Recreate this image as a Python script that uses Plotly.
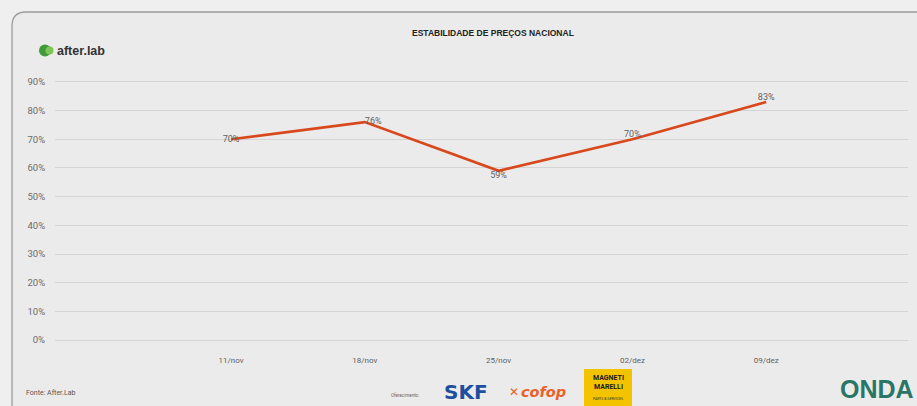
import plotly.graph_objects as go

# --- data ---
weeks = ["11/nov", "18/nov", "25/nov", "02/dez", "09/dez"]
stability_pct = [70, 76, 59, 70, 83]
label_positions = ["middle center", "middle right", "bottom center", "top center", "top center"]
y_ticks = [0, 10, 20, 30, 40, 50, 60, 70, 80, 90]

W, H = 917, 406
ML, MR, MT, MB = 55, 9, 79, 63
PW, PH = W - ML - MR, H - MT - MB

LINE = "#d9481c"
TXT = "#5f5f5f"
NARROW = "Liberation Sans Narrow, Roboto, Arial, sans-serif"


def px(x):
    """horizontal pixel -> paper fraction"""
    return (x - ML) / PW


def py(y):
    """vertical pixel (from top) -> paper fraction"""
    return (H - MB - y) / PH


xs = list(range(len(weeks)))

fig = go.Figure()
fig.add_trace(go.Scatter(
    x=xs,
    y=stability_pct,
    mode="lines+text",
    line=dict(color=LINE, width=2.7),
    text=[f"{v}%" for v in stability_pct],
    textposition=label_positions,
    textfont=dict(family=NARROW, size=9, color=TXT),
    cliponaxis=False,
    hoverinfo="skip",
    showlegend=False,
))

# card outline with rounded top-left corner
card_path = (
    f"M {px(12)} {py(420)} L {px(12)} {py(26)} "
    f"Q {px(12)} {py(12)} {px(26)} {py(12)} L {px(940)} {py(12)}"
)

shapes = [
    dict(type="path", xref="paper", yref="paper", path=card_path + f" L {px(940)} {py(420)} Z",
         fillcolor="#ebebeb", line=dict(width=0), layer="below"),
    dict(type="path", xref="paper", yref="paper", path=card_path,
         line=dict(color="#9c9c9c", width=1.3), layer="below"),
    # after.lab mark
    dict(type="circle", xref="paper", yref="paper",
         x0=px(39), x1=px(51), y0=py(56.5), y1=py(44.5),
         fillcolor="#3f9b3a", line=dict(width=0)),
    dict(type="circle", xref="paper", yref="paper",
         x0=px(45.5), x1=px(53.5), y0=py(54.5), y1=py(46.5),
         fillcolor="#7cc556", line=dict(width=0)),
    # Magneti Marelli badge
    dict(type="rect", xref="paper", yref="paper",
         x0=px(584), x1=px(632), y0=py(410), y1=py(369),
         fillcolor="#f4c300", line=dict(width=0)),
]

annotations = [
    dict(text="<b>ESTABILIDADE DE PREÇOS NACIONAL</b>", x=px(493), y=py(33),
         font=dict(family="Liberation Sans, Arial, sans-serif", size=8.5, color="#222")),
    dict(text="<b>after.lab</b>", x=px(55), y=py(51), xanchor="left",
         font=dict(family="Liberation Sans Narrow, Liberation Sans, sans-serif", size=12.5, color="#333")),
    dict(text="Fonte: After.Lab", x=px(24), y=py(393), xanchor="left",
         font=dict(family=NARROW, size=7, color="#555")),
    dict(text="Oferecimento:", x=px(389), y=py(395), xanchor="left",
         font=dict(family=NARROW, size=4.5, color="#666")),
    dict(text="<b>SKF</b>", x=px(442), y=py(392), xanchor="left",
         font=dict(family="DejaVu Sans, sans-serif", size=20, color="#1d4f9e")),
    dict(text="<b>✕</b>", x=px(507), y=py(392), xanchor="left",
         font=dict(family="DejaVu Sans, sans-serif", size=12, color="#e8632c")),
    dict(text="<b><i>cofop</i></b>", x=px(519), y=py(392), xanchor="left",
         font=dict(family="DejaVu Sans, sans-serif", size=14.5, color="#e8632c")),
    dict(text="<b>MAGNETI<br>MARELLI</b>", x=px(608), y=py(382),
         font=dict(family=NARROW, size=7, color="#1a1a1a")),
    dict(text="PARTS & SERVICES", x=px(608), y=py(399),
         font=dict(family=NARROW, size=3.5, color="#333")),
    dict(text="<b>ONDA</b>", x=px(916), y=py(389), xanchor="right",
         font=dict(family="Liberation Sans Narrow, Liberation Sans, sans-serif", size=25, color="#2a7566")),
]
for a in annotations:
    a.setdefault("xref", "paper")
    a.setdefault("yref", "paper")
    a.setdefault("xanchor", "center")
    a.setdefault("yanchor", "middle")
    a.setdefault("showarrow", False)

fig.update_layout(
    width=W, height=H, autosize=False,
    margin=dict(l=ML, r=MR, t=MT, b=MB),
    paper_bgcolor="#efefef",
    plot_bgcolor="rgba(0,0,0,0)",
    shapes=shapes,
    annotations=annotations,
    xaxis=dict(
        range=[-1.316, 5.06],
        tickvals=xs, ticktext=weeks,
        showgrid=False, zeroline=False, showline=False,
        ticks="outside", ticklen=9, tickcolor="rgba(0,0,0,0)",
        tickfont=dict(family=NARROW, size=8, color=TXT),
        fixedrange=True,
    ),
    yaxis=dict(
        range=[-1, 91],
        tickvals=y_ticks, ticktext=[f"{v}%" for v in y_ticks],
        showgrid=True, gridcolor="#d4d4d4", gridwidth=1,
        zeroline=False, showline=False,
        ticks="outside", ticklen=7, tickcolor="rgba(0,0,0,0)",
        tickfont=dict(family="Roboto, sans-serif", size=9.5, color="#6c6c6c"),
        fixedrange=True,
    ),
)

fig.write_html("out.html")
